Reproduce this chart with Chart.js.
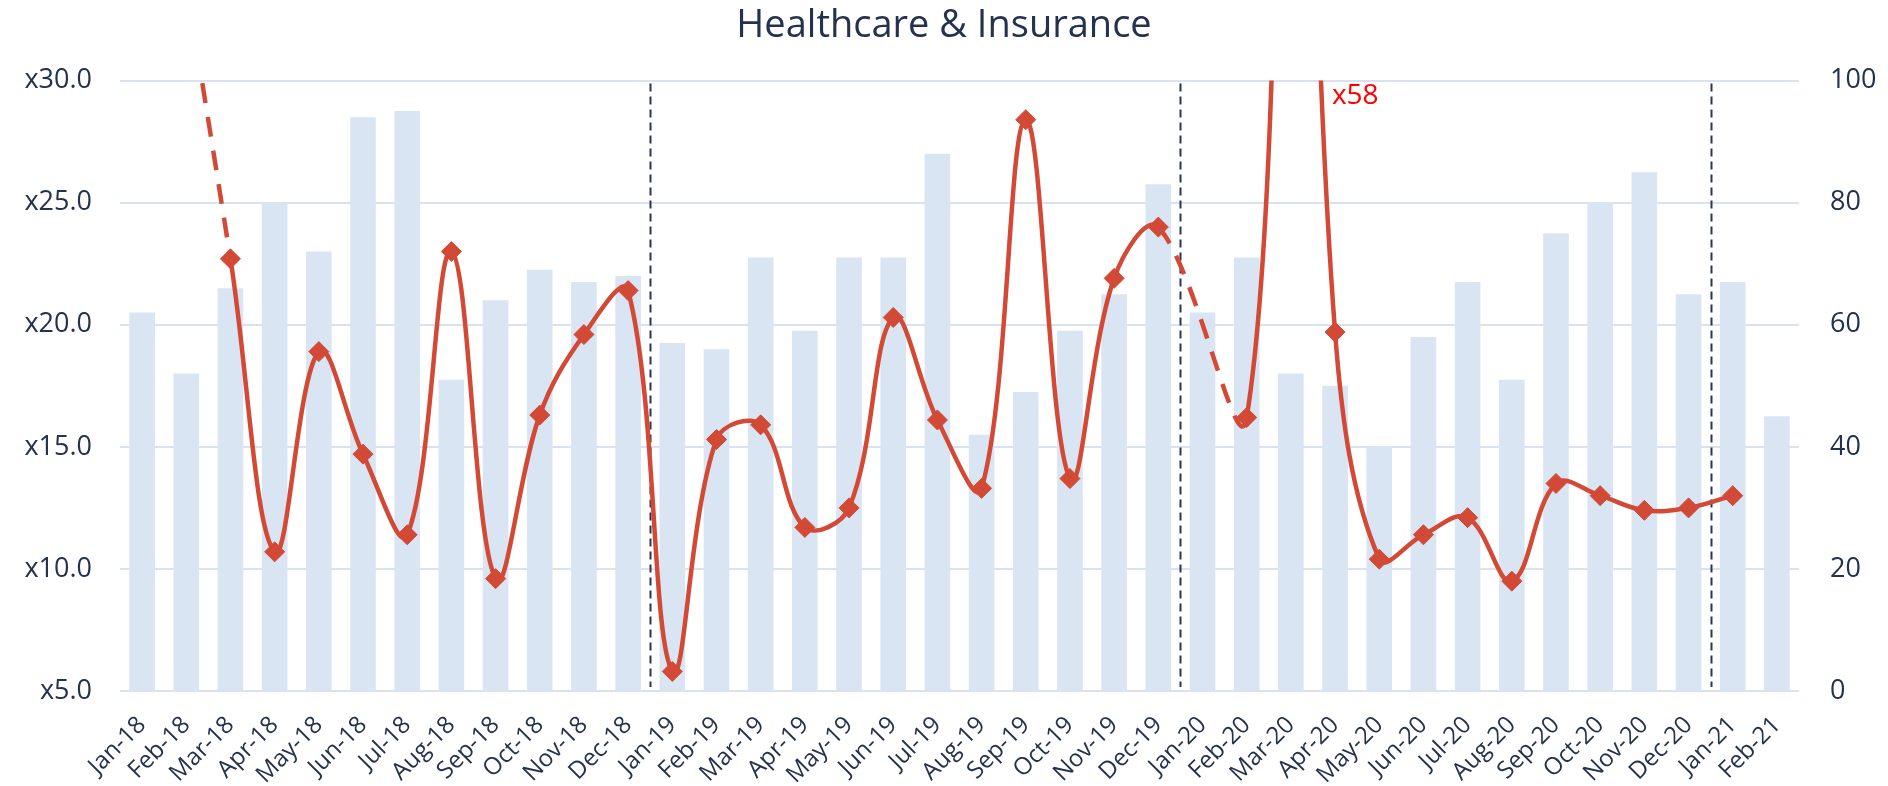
<!DOCTYPE html>
<html>
<head>
<meta charset="utf-8">
<title>Healthcare & Insurance</title>
<script src="https://cdn.jsdelivr.net/npm/chart.js@4.4.1/dist/chart.umd.min.js"></script>
<style>
  html, body { margin: 0; padding: 0; background: #fff; }
</style>
</head>
<body>
<canvas id="chart" width="1888" height="786"></canvas>
<script>
// months on the x axis
const months = [
  'Jan-18', 'Feb-18', 'Mar-18', 'Apr-18', 'May-18', 'Jun-18', 'Jul-18', 'Aug-18', 'Sep-18', 'Oct-18', 'Nov-18', 'Dec-18',
  'Jan-19', 'Feb-19', 'Mar-19', 'Apr-19', 'May-19', 'Jun-19', 'Jul-19', 'Aug-19', 'Sep-19', 'Oct-19', 'Nov-19', 'Dec-19',
  'Jan-20', 'Feb-20', 'Mar-20', 'Apr-20', 'May-20', 'Jun-20', 'Jul-20', 'Aug-20', 'Sep-20', 'Oct-20', 'Nov-20', 'Dec-20',
  'Jan-21', 'Feb-21'
];

// bars (right axis)
const dealCount = [
  62, 52, 66, 80, 72, 94, 95, 51, 64, 69, 67, 68,
  57, 56, 71, 59, 71, 71, 88, 42, 49, 59, 65, 83,
  62, 71, 52, 50, 40, 58, 67, 51, 75, 80, 85, 65,
  67, 45
];

// line (left axis), null = no value for that month
const multiple = [
  45, null, 22.7, 10.7, 18.9, 14.7, 11.4, 23.0, 9.6, 16.3, 19.6, 21.4,
  5.8, 15.3, 15.9, 11.7, 12.5, 20.3, 16.1, 13.3, 28.4, 13.7, 21.9, 24.0,
  null, 16.2, 58, 19.7, 10.4, 11.4, 12.1, 9.5, 13.5, 13.0, 12.4, 12.5,
  13.0, null
];

const leftTicks = [5, 10, 15, 20, 25, 30];
const rightTicks = [0, 20, 40, 60, 80, 100];
const yearBreaks = ['Jan-19', 'Jan-20', 'Jan-21'];
const offScaleLabel = 'Mar-20';

const navy = '#25324f';
const red = '#d24a36';

const extras = {
  id: 'extras',
  beforeDatasetsDraw(chart) {
    const { ctx, chartArea, scales: { x } } = chart;
    ctx.save();
    ctx.strokeStyle = '#2a3652';
    ctx.lineWidth = 2;
    ctx.setLineDash([8, 5]);
    yearBreaks.forEach(m => {
      const i = months.indexOf(m);
      const px = Math.round((x.getPixelForValue(i - 1) + x.getPixelForValue(i)) / 2) + 0.5;
      ctx.beginPath();
      ctx.moveTo(px, chartArea.top + 3);
      ctx.lineTo(px, chartArea.bottom - 4);
      ctx.stroke();
    });
    ctx.restore();
  },
  afterDatasetsDraw(chart) {
    // value label for the point that runs off the top of the scale
    const { ctx, chartArea, scales: { x } } = chart;
    const i = months.indexOf(offScaleLabel);
    ctx.save();
    ctx.fillStyle = '#ff0000';
    ctx.font = '28px "Open Sans"';
    ctx.textAlign = 'left';
    ctx.textBaseline = 'middle';
    ctx.fillText('x' + multiple[i], x.getPixelForValue(i) + 41, chartArea.top + 15);
    ctx.restore();
  }
};

Chart.defaults.font.family = '"Open Sans", sans-serif';
Chart.defaults.color = navy;

new Chart(document.getElementById('chart'), {
  data: {
    labels: months,
    datasets: [
      {
        type: 'line',
        data: multiple,
        yAxisID: 'yLeft',
        order: 0,
        borderColor: red,
        borderWidth: 4.5,
        tension: 0.38,
        spanGaps: true,
        pointStyle: 'rectRot',
        pointRadius: 10,
        pointBackgroundColor: red,
        pointBorderColor: red,
        pointBorderWidth: 1,
        segment: {
          borderDash: ctx => (ctx.p0.skip || ctx.p1.skip) ? [20, 14] : undefined
        }
      },
      {
        type: 'bar',
        data: dealCount,
        yAxisID: 'yRight',
        order: 1,
        backgroundColor: '#dae5f3',
        categoryPercentage: 1,
        barPercentage: 0.58
      }
    ]
  },
  options: {
    responsive: false,
    animation: false,
    layout: { padding: 0 },
    plugins: {
      legend: { display: false },
      tooltip: { enabled: false },
      title: {
        display: true,
        text: 'Healthcare & Insurance',
        color: navy,
        font: { size: 38, weight: 'normal', lineHeight: 1.2 },
        padding: { top: 3, bottom: 32 }
      }
    },
    scales: {
      x: {
        grid: { display: false },
        border: { display: false },
        ticks: {
          color: navy,
          font: { size: 24 },
          maxRotation: 45,
          minRotation: 45,
          autoSkip: false,
          padding: 12
        },
        afterFit(scale) { scale.height = 95; }
      },
      yLeft: {
        position: 'left',
        min: leftTicks[0],
        max: leftTicks[leftTicks.length - 1],
        afterBuildTicks(scale) { scale.ticks = leftTicks.map(v => ({ value: v })); },
        grid: { color: '#d9e2f1', lineWidth: 2, drawTicks: false },
        border: { display: false },
        ticks: {
          color: navy,
          font: { size: 27 },
          padding: 28,
          callback: v => 'x' + v.toFixed(1)
        },
        afterFit(scale) { scale.width = 120; }
      },
      yRight: {
        position: 'right',
        min: rightTicks[0],
        max: rightTicks[rightTicks.length - 1],
        afterBuildTicks(scale) { scale.ticks = rightTicks.map(v => ({ value: v })); },
        grid: { display: false, drawTicks: false },
        border: { display: false },
        ticks: {
          color: navy,
          font: { size: 27 },
          padding: 31
        },
        afterFit(scale) { scale.width = 89; }
      }
    }
  },
  plugins: [extras]
});
</script>
</body>
</html>
